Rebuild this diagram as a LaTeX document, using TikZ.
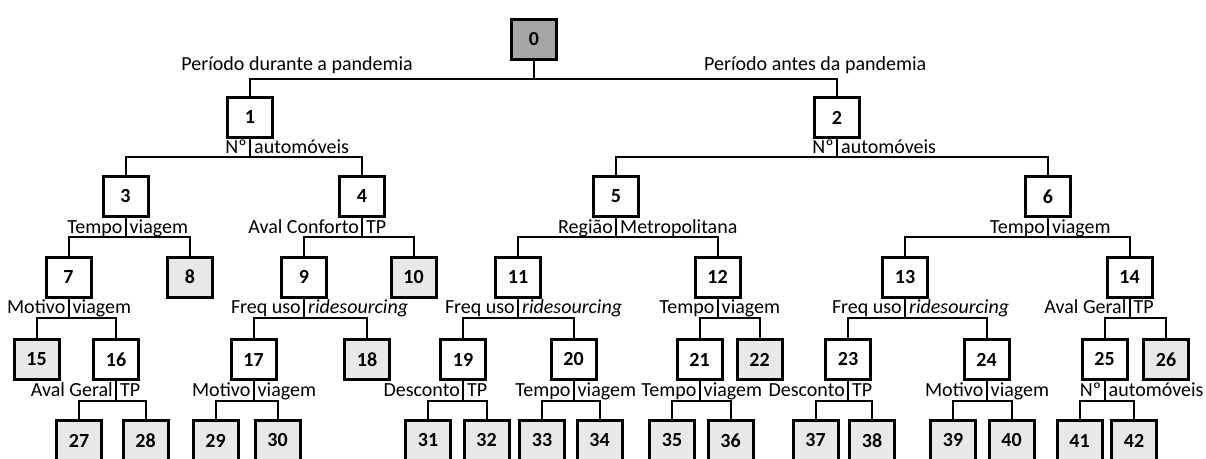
\documentclass[tikz,border=0pt]{standalone}
\usepackage{fontspec}
\setmainfont{Carlito}
\definecolor{rootgray}{HTML}{A6A6A6}
\definecolor{leafgray}{HTML}{E8E8E8}
\begin{document}
\begin{tikzpicture}[x=1pt,y=-1pt,
  box/.style={draw=black, line width=3pt, fill=white, minimum width=45pt, minimum height=40pt,
    inner sep=0pt, font=\fontsize{20}{22}\selectfont\bfseries},
  root/.style={box, fill=rootgray},
  leaf/.style={box, fill=leafgray},
  conn/.style={draw=black, line width=2pt},
  labl/.style={inner sep=0pt, font=\fontsize{20}{22}\selectfont}]
\clip (0,0) rectangle (1206,458);
\fill[white] (0,0) rectangle (1206,458);

% levels of the horizontal branch lines
\coordinate (h1) at (0,79);
\coordinate (h2) at (0,157);
\coordinate (h3) at (0,236.5);
\coordinate (h4) at (0,318);
\coordinate (h5) at (0,401);
% text baselines of the split labels
\coordinate (b2) at (0,153);
\coordinate (b3) at (0,233);
\coordinate (b4) at (0,313.5);
\coordinate (b5) at (0,396.5);

% tree nodes
\node[root] (n0) at (534,39.5) {0};
\node[box] (n1) at (250,117.5) {1};
\node[box] (n2) at (837,117.5) {2};
\node[box] (n3) at (125.5,196.5) {3};
\node[box] (n4) at (362,196.5) {4};
\node[box] (n5) at (616,196.5) {5};
\node[box] (n6) at (1048,196.5) {6};
\node[box] (n7) at (68.5,277) {7};
\node[leaf] (n8) at (190,277) {8};
\node[box] (n9) at (304,277) {9};
\node[leaf] (n10) at (413.5,277) {10};
\node[box] (n11) at (518,277) {11};
\node[box] (n12) at (717.5,277) {12};
\node[box] (n13) at (905,277) {13};
\node[box] (n14) at (1129.5,277) {14};
\node[leaf] (n15) at (36.5,359.5) {15};
\node[box] (n16) at (116,359.5) {16};
\node[box] (n17) at (253.5,359.5) {17};
\node[leaf] (n18) at (367,359.5) {18};
\node[box] (n19) at (463,359.5) {19};
\node[box] (n20) at (573.5,359.5) {20};
\node[box] (n21) at (699.5,359.5) {21};
\node[leaf] (n22) at (759.5,359.5) {22};
\node[box] (n23) at (848,359.5) {23};
\node[box] (n24) at (986.5,359.5) {24};
\node[box] (n25) at (1104.5,359.5) {25};
\node[leaf] (n26) at (1166,359.5) {26};
\node[leaf] (n27) at (79,440.5) {27};
\node[leaf] (n28) at (145.5,440.5) {28};
\node[leaf] (n29) at (215.5,440.5) {29};
\node[leaf] (n30) at (277.5,440.5) {30};
\node[leaf] (n31) at (428,440.5) {31};
\node[leaf] (n32) at (486.5,440.5) {32};
\node[leaf] (n33) at (542,440.5) {33};
\node[leaf] (n34) at (599.5,440.5) {34};
\node[leaf] (n35) at (672,440.5) {35};
\node[leaf] (n36) at (730.5,440.5) {36};
\node[leaf] (n37) at (815.5,440.5) {37};
\node[leaf] (n38) at (872,440.5) {38};
\node[leaf] (n39) at (953,440.5) {39};
\node[leaf] (n40) at (1011.5,440.5) {40};
\node[leaf] (n41) at (1079.5,440.5) {41};
\node[leaf] (n42) at (1134,440.5) {42};

% parent, left child, right child, branch level
\newcommand\branch[4]{%
  \draw[conn] (#1.south) -- (#1.south |- #4);
  \draw[conn] (#2.north) -- (#2.north |- #4) -- (#3.north |- #4) -- (#3.north);}
\branch{n0}{n1}{n2}{h1}
\branch{n1}{n3}{n4}{h2}
\branch{n2}{n5}{n6}{h2}
\branch{n3}{n7}{n8}{h3}
\branch{n4}{n9}{n10}{h3}
\branch{n5}{n11}{n12}{h3}
\branch{n6}{n13}{n14}{h3}
\branch{n7}{n15}{n16}{h4}
\branch{n9}{n17}{n18}{h4}
\branch{n11}{n19}{n20}{h4}
\branch{n12}{n21}{n22}{h4}
\branch{n13}{n23}{n24}{h4}
\branch{n14}{n25}{n26}{h4}
\branch{n16}{n27}{n28}{h5}
\branch{n17}{n29}{n30}{h5}
\branch{n19}{n31}{n32}{h5}
\branch{n20}{n33}{n34}{h5}
\branch{n21}{n35}{n36}{h5}
\branch{n23}{n37}{n38}{h5}
\branch{n24}{n39}{n40}{h5}
\branch{n25}{n41}{n42}{h5}

% split variable labels: the stem of the parent runs through the gap
\newcommand\varlabel[4]{%
  \node[labl, anchor=base east, xshift=-3pt] (#1l) at (#1.south |- #2) {#3};
  \node[labl, anchor=base west, xshift=4pt] (#1r) at (#1.south |- #2) {#4};}
\varlabel{n1}{b2}{Nº}{automóveis}
\varlabel{n2}{b2}{Nº}{automóveis}
\varlabel{n3}{b3}{Tempo}{viagem}
\varlabel{n4}{b3}{Aval Conforto}{TP}
\varlabel{n5}{b3}{Região}{Metropolitana}
\varlabel{n6}{b3}{Tempo}{viagem}
\varlabel{n7}{b4}{Motivo}{viagem}
\varlabel{n9}{b4}{Freq uso}{\itshape ridesourcing}
\varlabel{n11}{b4}{Freq uso}{\itshape ridesourcing}
\varlabel{n12}{b4}{Tempo}{viagem}
\varlabel{n13}{b4}{Freq uso}{\itshape ridesourcing}
\varlabel{n14}{b4}{Aval Geral}{TP}
\varlabel{n16}{b5}{Aval Geral}{TP}
\varlabel{n17}{b5}{Motivo}{viagem}
\varlabel{n19}{b5}{Desconto}{TP}
\varlabel{n20}{b5}{Tempo}{viagem}
\varlabel{n21}{b5}{Tempo}{viagem}
\varlabel{n23}{b5}{Desconto}{TP}
\varlabel{n24}{b5}{Motivo}{viagem}
\varlabel{n25}{b5}{Nº}{automóveis}

% labels of the first split
\node[labl, anchor=base east] (lp1) at (413,70) {Período durante a pandemia};
\node[labl, anchor=base west] (lp2) at (704,70) {Período antes da pandemia};
\end{tikzpicture}
\end{document}
